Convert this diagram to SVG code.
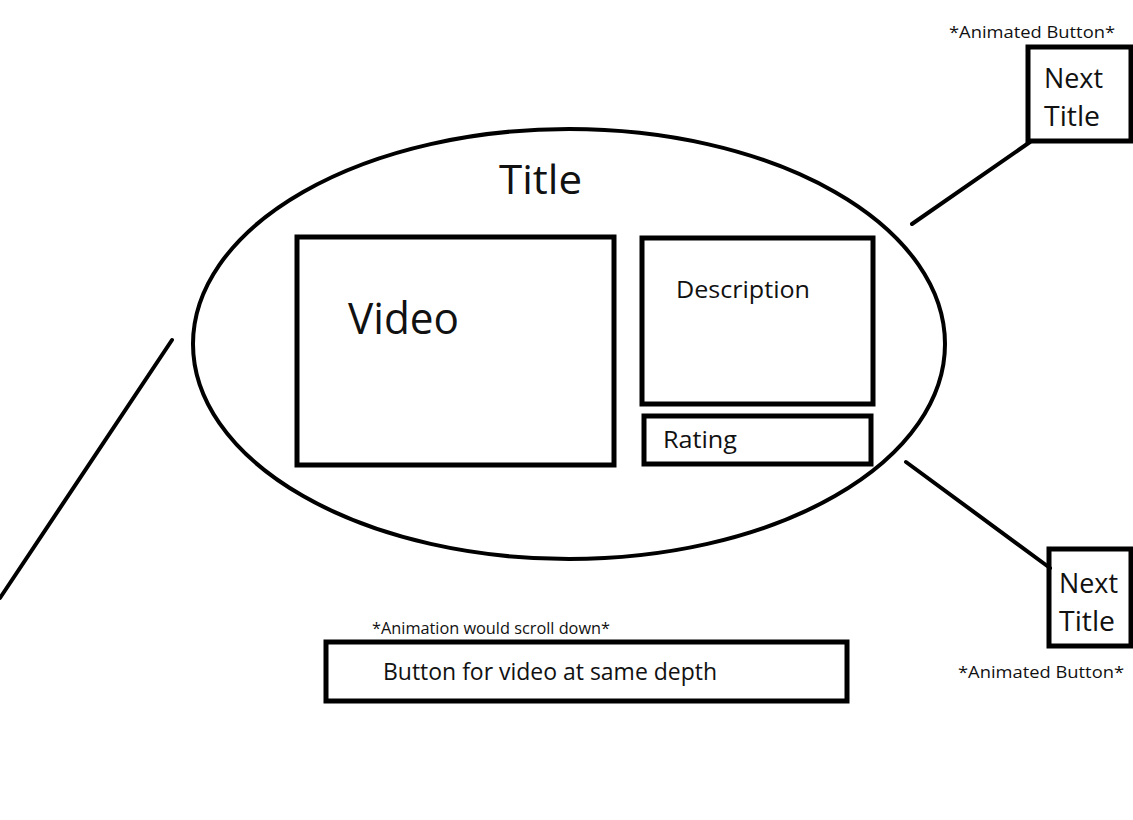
<svg xmlns="http://www.w3.org/2000/svg" width="1133" height="820" viewBox="0 0 1133 820">
<style>
.box{fill:none;stroke:#000;stroke-width:5}
.ln{fill:none;stroke:#000;stroke-width:4;stroke-linecap:round}
text{font-family:"Open Sans","Noto Sans",sans-serif;fill:#111}
</style>
<rect width="1133" height="820" fill="#fff"/>
<g id="connectors">
<line class="ln" x1="912" y1="224" x2="1030" y2="142"/>
<line class="ln" x1="906" y1="462" x2="1050" y2="568"/>
<line class="ln" x1="172" y1="340" x2="0" y2="598"/>
</g>
<g id="main">
<ellipse cx="569" cy="344" rx="376" ry="215" fill="none" stroke="#000" stroke-width="4"/>
<text x="499" y="194" font-size="40" textLength="83" lengthAdjust="spacingAndGlyphs">Title</text>
</g>
<g id="video">
<rect class="box" x="297" y="237" width="317" height="228"/>
<text x="348" y="334" font-size="43" textLength="111" lengthAdjust="spacingAndGlyphs">Video</text>
</g>
<g id="description">
<rect class="box" x="642" y="238" width="231" height="166"/>
<text x="676" y="298" font-size="24" textLength="134" lengthAdjust="spacingAndGlyphs">Description</text>
</g>
<g id="rating">
<rect class="box" x="644" y="416" width="227" height="48"/>
<text x="663" y="448" font-size="24" textLength="74" lengthAdjust="spacingAndGlyphs">Rating</text>
</g>
<g id="next-top">
<text x="949" y="38" font-size="17" textLength="166" lengthAdjust="spacingAndGlyphs">*Animated Button*</text>
<rect class="box" x="1028" y="47" width="103" height="94"/>
<text x="1044" y="88" font-size="28" textLength="59" lengthAdjust="spacingAndGlyphs">Next</text>
<text x="1044" y="126" font-size="28" textLength="56" lengthAdjust="spacingAndGlyphs">Title</text>
</g>
<g id="next-bottom">
<rect class="box" x="1049" y="549" width="82" height="97"/>
<text x="1059" y="593" font-size="28" textLength="59" lengthAdjust="spacingAndGlyphs">Next</text>
<text x="1059" y="631" font-size="28" textLength="56" lengthAdjust="spacingAndGlyphs">Title</text>
<text x="958" y="678" font-size="17" textLength="166" lengthAdjust="spacingAndGlyphs">*Animated Button*</text>
</g>
<g id="button">
<text x="372" y="634" font-size="16" textLength="238" lengthAdjust="spacingAndGlyphs">*Animation would scroll down*</text>
<rect class="box" x="326" y="642" width="521" height="59"/>
<text x="383" y="680" font-size="24" textLength="334" lengthAdjust="spacingAndGlyphs">Button for video at same depth</text>
</g>
</svg>
